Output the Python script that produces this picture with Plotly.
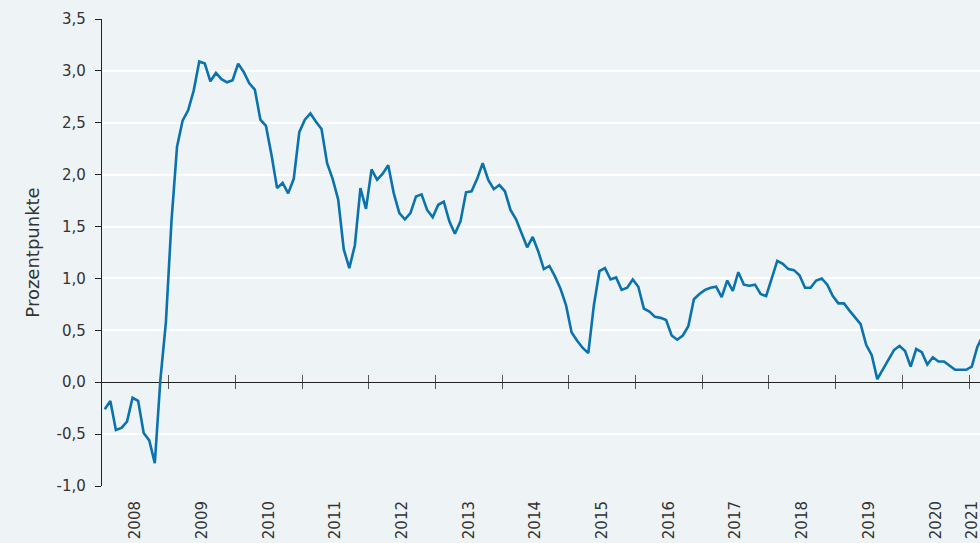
import plotly.graph_objects as go

# Monthly series, Jan 2008 – Mar 2021 (Prozentpunkte)
start_year = 2008
values = [
    # 2008
    -0.26, -0.18, -0.46, -0.44, -0.38, -0.15, -0.18, -0.49, -0.56, -0.78, 0.02, 0.58,
    # 2009
    1.55, 2.27, 2.52, 2.62, 2.81, 3.09, 3.07, 2.90, 2.98, 2.92, 2.89, 2.91,
    # 2010
    3.07, 2.99, 2.88, 2.82, 2.53, 2.47, 2.19, 1.87, 1.92, 1.82, 1.96, 2.41,
    # 2011
    2.53, 2.59, 2.51, 2.44, 2.11, 1.96, 1.76, 1.28, 1.10, 1.32, 1.87, 1.67,
    # 2012
    2.05, 1.95, 2.01, 2.09, 1.82, 1.63, 1.57, 1.63, 1.79, 1.81, 1.66, 1.59,
    # 2013
    1.71, 1.74, 1.55, 1.43, 1.55, 1.83, 1.84, 1.96, 2.11, 1.95, 1.86, 1.90,
    # 2014
    1.84, 1.66, 1.57, 1.44, 1.30, 1.40, 1.26, 1.09, 1.12, 1.02, 0.90, 0.74,
    # 2015
    0.48, 0.40, 0.33, 0.28, 0.74, 1.07, 1.10, 0.99, 1.01, 0.89, 0.91, 0.99,
    # 2016
    0.92, 0.71, 0.68, 0.63, 0.62, 0.60, 0.45, 0.41, 0.45, 0.54, 0.80, 0.85,
    # 2017
    0.89, 0.91, 0.92, 0.82, 0.98, 0.88, 1.06, 0.94, 0.93, 0.94, 0.85, 0.83,
    # 2018
    1.00, 1.17, 1.14, 1.09, 1.08, 1.03, 0.91, 0.91, 0.98, 1.00, 0.94, 0.83,
    # 2019
    0.76, 0.76, 0.69, 0.63, 0.56, 0.36, 0.26, 0.03, 0.12, 0.21, 0.31, 0.35,
    # 2020
    0.30, 0.15, 0.32, 0.29, 0.17, 0.24, 0.20, 0.20, 0.16, 0.12, 0.12, 0.12,
    # 2021
    0.15, 0.34, 0.45,
]

year_labels = ["2008", "2009", "2010", "2011", "2012", "2013", "2014",
               "2015", "2016", "2017", "2018", "2019", "2020", "2021"]
year_label_pos = [2008.5, 2009.5, 2010.5, 2011.5, 2012.5, 2013.5, 2014.5,
                  2015.5, 2016.5, 2017.5, 2018.5, 2019.5, 2020.5, 2021.04]
year_ticks = [2009, 2010, 2011, 2012, 2013, 2014, 2015, 2016, 2017, 2018,
              2019, 2020, 2021]

y_ticks = [-1.0, -0.5, 0.0, 0.5, 1.0, 1.5, 2.0, 2.5, 3.0, 3.5]
y_tick_labels = ["-1,0", "-0,5", "0,0", "0,5", "1,0", "1,5", "2,0", "2,5", "3,0", "3,5"]

x_vals = [start_year + (i + 0.5) / 12 for i in range(len(values))]

x_range = [2008, 2021.165]
y_range = [-1.0, 3.5]

BG = "#eef4f5"
LINE = "#0a72ad"
TXT = "#333333"
FONT = "DejaVu Sans"

fig = go.Figure()
fig.add_trace(go.Scatter(
    x=x_vals, y=values, mode="lines",
    line=dict(color=LINE, width=2.6),
    showlegend=False, hoverinfo="skip",
))
# empty helper traces so the zero-line tick axes render
fig.add_trace(go.Scatter(x=[], y=[], xaxis="x2", showlegend=False))
fig.add_trace(go.Scatter(x=[], y=[], xaxis="x3", showlegend=False))

zero_pos = (0 - y_range[0]) / (y_range[1] - y_range[0])

fig.update_layout(
    width=980, height=543,
    margin=dict(l=102, r=0, t=19, b=57, pad=0, autoexpand=False),
    paper_bgcolor=BG, plot_bgcolor=BG,
    font=dict(family=FONT, size=15, color=TXT),
    xaxis=dict(
        range=x_range, showgrid=False, zeroline=False, showline=False,
        tickmode="array", tickvals=year_label_pos, ticktext=year_labels,
        tickangle=-90, ticks="", ticklabelstandoff=11, automargin=False,
        ticklabeloverflow="allow",
        tickfont=dict(family=FONT, size=15, color=TXT),
    ),
    xaxis2=dict(
        overlaying="x", anchor="free", position=zero_pos, side="bottom",
        range=x_range, showgrid=False, zeroline=False, showline=False,
        tickmode="array", tickvals=year_ticks, showticklabels=False,
        ticks="inside", ticklen=7, tickwidth=1.3, tickcolor="#555555",
        automargin=False,
    ),
    xaxis3=dict(
        overlaying="x", anchor="free", position=zero_pos, side="bottom",
        range=x_range, showgrid=False, zeroline=False, showline=False,
        tickmode="array", tickvals=year_ticks, showticklabels=False,
        ticks="outside", ticklen=6, tickwidth=1.3, tickcolor="#555555",
        automargin=False,
    ),
    yaxis=dict(
        range=y_range, tickmode="array", tickvals=y_ticks, ticktext=y_tick_labels,
        showgrid=True, gridcolor="#ffffff", gridwidth=2,
        zeroline=True, zerolinecolor="#222222", zerolinewidth=1.3,
        showline=True, linecolor="#222222", linewidth=1.3,
        ticks="outside", ticklen=6, tickcolor="#222222", tickwidth=1.3,
        ticklabelstandoff=6, automargin=False,
        title=dict(text="Prozentpunkte", standoff=12,
                   font=dict(family=FONT, size=18, color=TXT)),
        tickfont=dict(family=FONT, size=15, color=TXT),
    ),
)

page_js = (
    "document.body.style.margin='0';"
    "document.body.style.padding='0';"
    "document.body.style.overflow='hidden';"
    "document.body.style.background='" + BG + "';"
)

fig.write_html("out.html", post_script=page_js,
               config={"displayModeBar": False, "responsive": False})
